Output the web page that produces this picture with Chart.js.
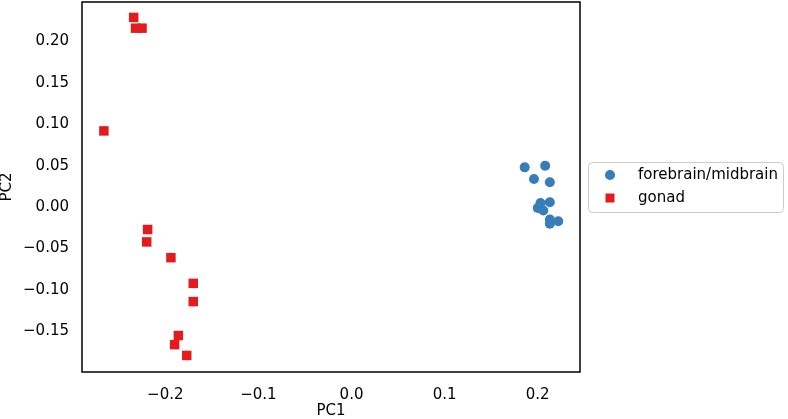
<!DOCTYPE html>
<html>
<head>
<meta charset="utf-8">
<script src="https://cdn.jsdelivr.net/npm/chart.js@4/dist/chart.umd.min.js"></script>
<style>
  html, body { margin: 0; padding: 0; background: #fff; }
  #wrap { width: 788px; height: 419px; }
</style>
</head>
<body>
<div id="wrap"><canvas id="pca" width="788" height="419"></canvas></div>
<script>
// PCA scores
const brainX = [0.186, 0.208, 0.196, 0.213, 0.203, 0.213, 0.200, 0.206, 0.213, 0.222, 0.213];
const brainY = [0.048, 0.050, 0.034, 0.030, 0.005, 0.006, -0.001, -0.004, -0.015, -0.017, -0.020];

const gonadX = [-0.234, -0.232, -0.225, -0.266, -0.219, -0.220, -0.194, -0.170, -0.170, -0.186, -0.190, -0.177];
const gonadY = [0.229, 0.216, 0.216, 0.092, -0.027, -0.042, -0.061, -0.092, -0.114, -0.155, -0.166, -0.179];

const seriesNames = ["forebrain/midbrain", "gonad"];
const xTicks = [-0.2, -0.1, 0.0, 0.1, 0.2];
const yTicks = [0.20, 0.15, 0.10, 0.05, 0.00, -0.05, -0.10, -0.15];

const BLUE = "#377eb8";
const RED = "#e41a1c";
const FONT = "'DejaVu Sans', sans-serif";

function toPts(xs, ys) {
  return xs.map((x, i) => ({ x: x, y: ys[i] }));
}
function fmt(v, d) {
  let s = Math.abs(v).toFixed(d);
  return (v < -1e-9 ? "\u2212" : "") + s;
}

// box round the plot + matplotlib style legend
const frameAndLegend = {
  id: "frameAndLegend",
  afterDraw(chart) {
    const ctx = chart.ctx;
    const a = chart.chartArea;
    ctx.save();
    ctx.strokeStyle = "#000";
    ctx.lineWidth = 1.5;
    ctx.strokeRect(a.left, a.top, a.right - a.left, a.bottom - a.top);

    // legend
    const bx = a.right + 8, by = 162, bw = 195, bh = 50;
    ctx.strokeStyle = "#cccccc";
    ctx.lineWidth = 1;
    ctx.beginPath();
    ctx.roundRect(bx + 0.5, by + 0.5, bw, bh, 4);
    ctx.fillStyle = "rgba(255,255,255,0.8)";
    ctx.fill();
    ctx.stroke();

    const rows = [175, 198];
    ctx.fillStyle = BLUE;
    ctx.beginPath();
    ctx.arc(bx + 22, rows[0], 5, 0, Math.PI * 2);
    ctx.fill();
    ctx.fillStyle = RED;
    ctx.fillRect(bx + 22 - 4.5, rows[1] - 4.5, 9, 9);

    ctx.fillStyle = "#000";
    ctx.font = "15px " + FONT;
    ctx.textBaseline = "middle";
    ctx.textAlign = "left";
    ctx.fillText(seriesNames[0], bx + 50, rows[0]);
    ctx.fillText(seriesNames[1], bx + 50, rows[1]);
    ctx.restore();
  }
};

new Chart(document.getElementById("pca"), {
  type: "scatter",
  data: {
    datasets: [
      {
        label: seriesNames[0],
        data: toPts(brainX, brainY),
        pointStyle: "circle",
        pointRadius: 5,
        pointHoverRadius: 5,
        backgroundColor: BLUE,
        borderWidth: 0
      },
      {
        label: seriesNames[1],
        data: toPts(gonadX, gonadY),
        pointStyle: "rect",
        pointRadius: 6.7,
        pointHoverRadius: 6.7,
        backgroundColor: RED,
        borderWidth: 0
      }
    ]
  },
  options: {
    responsive: false,
    animation: false,
    layout: { autoPadding: false, padding: { left: 0, top: 2, right: 208, bottom: 0 } },
    plugins: {
      legend: { display: false },
      tooltip: { enabled: false }
    },
    scales: {
      x: {
        type: "linear",
        min: -0.2895,
        max: 0.2454,
        grid: { display: false, drawTicks: false },
        border: { display: false },
        afterBuildTicks: (s) => { s.ticks = xTicks.map(v => ({ value: v })); },
        afterFit: (s) => { s.height = 47; s.paddingLeft = 0; s.paddingRight = 0; },
        ticks: {
          color: "#000",
          padding: 14,
          maxRotation: 0,
          font: { family: FONT, size: 15 },
          callback: (v) => fmt(v, 1)
        },
        title: {
          display: true,
          text: "PC1",
          color: "#000",
          padding: { top: 0, bottom: 0 },
          font: { family: FONT, size: 15, lineHeight: 1 }
        }
      },
      y: {
        type: "linear",
        min: -0.199,
        max: 0.2476,
        grid: { display: false, drawTicks: false },
        border: { display: false },
        afterBuildTicks: (s) => { s.ticks = yTicks.map(v => ({ value: v })); },
        afterFit: (s) => { s.width = 82; s.paddingTop = 0; s.paddingBottom = 0; },
        ticks: {
          color: "#000",
          padding: 13,
          font: { family: FONT, size: 15 },
          callback: (v) => fmt(v, 2)
        },
        title: {
          display: true,
          text: "PC2",
          color: "#000",
          padding: { top: 0, bottom: 0 },
          font: { family: FONT, size: 15, lineHeight: 1 }
        }
      }
    }
  },
  plugins: [frameAndLegend]
});
</script>
</body>
</html>
